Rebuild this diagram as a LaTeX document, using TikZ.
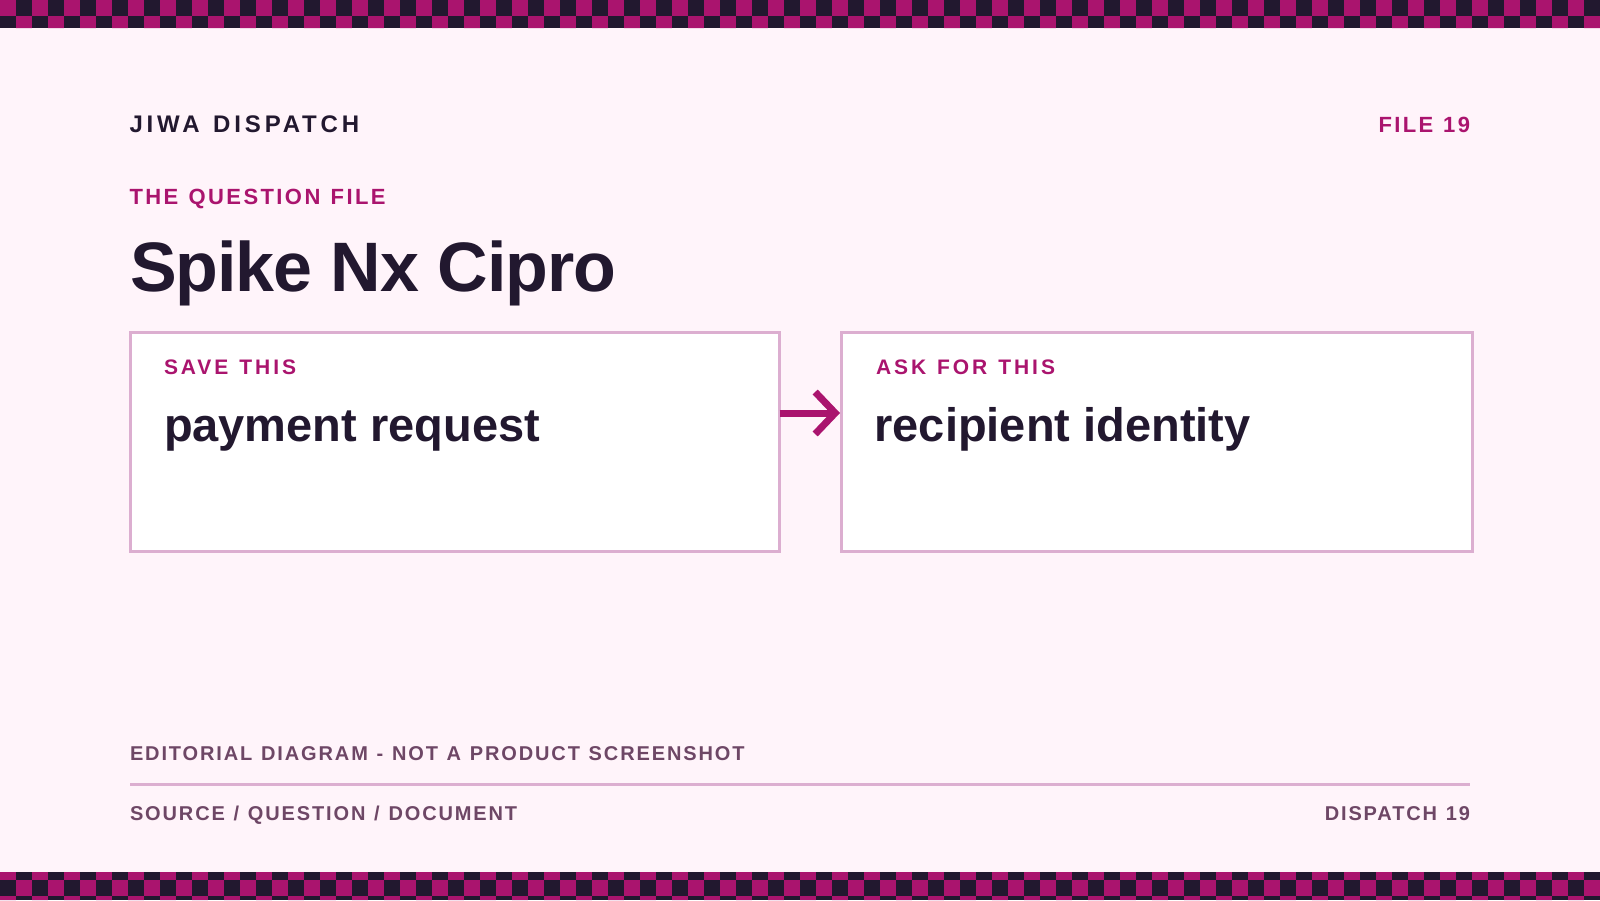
\documentclass[tikz,border=0pt]{standalone}
\usepackage{fontspec}
\setmainfont{Liberation Sans}
\newfontfamily\kickA{Liberation Sans}[LetterSpace=16, WordSpace=1.29]
\newfontfamily\kickB{Liberation Sans}[LetterSpace=14, WordSpace=1.25]
\newfontfamily\kickQ{Liberation Sans}[LetterSpace=11, WordSpace=1.2]
\newfontfamily\kickF{Liberation Sans}[LetterSpace=10.5, WordSpace=1.19]
\newfontfamily\kickC{Liberation Sans}[LetterSpace=9.4, WordSpace=1.17]
\newfontfamily\titlef{Liberation Sans}[LetterSpace=-1.5]
\usetikzlibrary{arrows.meta}
\definecolor{bgc}{HTML}{FFF4FA}
\definecolor{mag}{HTML}{AA146E}
\definecolor{ink}{HTML}{22182F}
\definecolor{foot}{HTML}{6E4766}
\definecolor{rulec}{HTML}{DCAED0}
\begin{document}
\begin{tikzpicture}[x=1pt,y=-1pt,
  txt/.style={inner sep=0pt, outer sep=0pt},
  brandtxt/.style={txt, text=ink, font=\kickA\bfseries\fontsize{24}{28}\selectfont},
  kicker/.style={txt, text=mag, font=\kickB\bfseries\fontsize{21}{25}\selectfont},
  bigkicker/.style={txt, text=mag, font=\kickQ\bfseries\fontsize{22}{26}\selectfont},
  filetxt/.style={txt, text=mag, font=\kickF\bfseries\fontsize{22}{26}\selectfont},
  titletxt/.style={txt, text=ink, font=\titlef\bfseries\fontsize{70}{80}\selectfont},
  bodytxt/.style={txt, text=ink, font=\bfseries\fontsize{47}{54}\selectfont},
  foottxt/.style={txt, text=foot, font=\kickC\bfseries\fontsize{20}{24}\selectfont},
  card/.style={draw=rulec, line width=3pt, fill=white, rectangle, inner sep=0pt, outer sep=0pt},
  link/.style={draw=mag, line width=7pt, -{Straight Barb[length=20pt, width=42pt, line width=7pt, sharp]}}
]
\fill[bgc] (0,0) rectangle (1600,900);
\useasboundingbox (0,0) rectangle (1600,900);

% checker bands
\begin{scope}
  \clip (0,0) rectangle (1600,28) (0,872) rectangle (1600,900);
  \fill[ink] (0,0) rectangle (1600,28);
  \fill[ink] (0,872) rectangle (1600,900);
  \foreach \i in {0,...,99} {
    \foreach \j in {0,1,54,55,56} {
      \pgfmathtruncatemacro\cpar{mod(\i+\j,2)}
      \ifnum\cpar=0
        \fill[mag] ({16*\i},{16*\j}) rectangle ++(16,16);
      \fi
    }
  }
\end{scope}

% header
\node[brandtxt, anchor=base west] (brand) at (129.5,132.3) {JIWA DISPATCH};
\node[filetxt, anchor=base east] (file) at (1470,132.3) {FILE 19};
\node[bigkicker, anchor=base west] (qfile) at (129.5,204) {THE QUESTION FILE};
\node[titletxt, anchor=base west] (title) at (130,291.7) {Spike Nx Cipro};

% cards
\node[card, minimum width=649pt, minimum height=219pt] (b1) at (455,442) {};
\node[card, minimum width=631pt, minimum height=219pt] (b2) at (1156.5,442) {};

\node[kicker, anchor=base west] (k1) at (164,374) {SAVE THIS};
\node[bodytxt, anchor=base west] (t1) at (164,441) {payment request};
\node[kicker, anchor=base west] (k2) at (876,374) {ASK FOR THIS};
\node[bodytxt, anchor=base west] (t2) at (874.5,441) {recipient identity};

% connector
\coordinate (ay) at (0,413);
\draw[link] (b1.east |- ay) -- ([xshift=-1pt]b2.west |- ay);

% footer
\node[foottxt, anchor=base west] (note) at (130,760) {EDITORIAL DIAGRAM - NOT A PRODUCT SCREENSHOT};
\coordinate (rl) at (130,784.5);
\coordinate (rr) at (1470,784.5);
\draw[rulec, line width=3pt] (rl) -- (rr);
\node[foottxt, anchor=base west] (src) at (130,820.7) {SOURCE / QUESTION / DOCUMENT};
\node[foottxt, anchor=base east] (disp) at (1470,820.7) {DISPATCH 19};
\end{tikzpicture}
\end{document}
